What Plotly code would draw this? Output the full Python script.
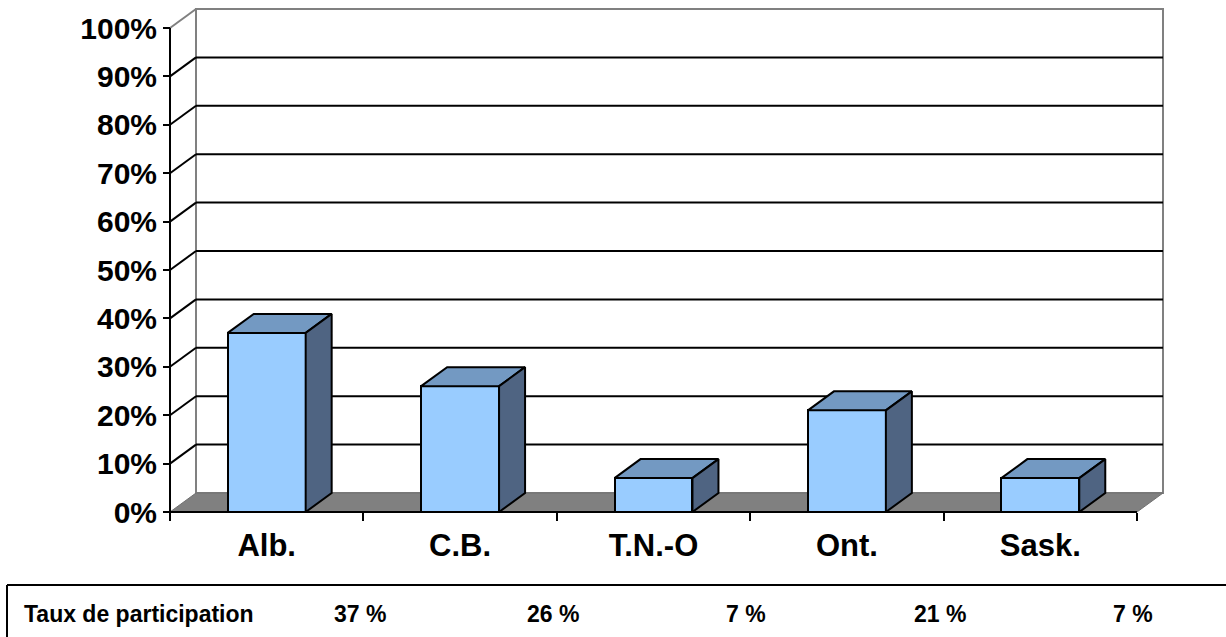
import plotly.graph_objects as go

# ---- data ----
categories = ["Alb.", "C.B.", "T.N.-O", "Ont.", "Sask."]
participation = [37, 26, 7, 21, 7]
y_ticks = [0, 10, 20, 30, 40, 50, 60, 70, 80, 90, 100]
y_tick_labels = [f"{v}%" for v in y_ticks]
table_label = "Taux de participation"

# ---- geometry (pixel layout) ----
W, H = 1226, 637
L, R, T, B = 160, 53, 4, 115
x0px, y0px = 170, 512          # pixel of data origin (front-left corner)
ux, uy = 193.4, 4.84            # pixels per category unit / per percent
dx, dy = 26 / ux, 19 / uy       # 3-D depth offset in data units
n = len(categories)
bar_w = 0.403

pw, ph = W - L - R, H - T - B
xr = [(L - x0px) / ux, (W - R - x0px) / ux]
yr = [(y0px - (H - B)) / uy, (y0px - T) / uy]

def px_x(p):
    return (p - L) / pw

def px_y(p):
    return (H - B - p) / ph

FONT = "Liberation Sans, Arial, sans-serif"
FRONT, TOP, SIDE = "#99CCFF", "#7399C2", "#4F6482"

fig = go.Figure()

shapes = []
# back wall
shapes.append(dict(type="rect", xref="x", yref="y", x0=dx, y0=dy, x1=n + dx, y1=100 + dy,
                   line=dict(color="#808080", width=2), fillcolor="white", layer="below"))
# gridlines on back wall and left wall
for v in y_ticks[1:-1]:
    shapes.append(dict(type="line", xref="x", yref="y", x0=dx, y0=v + dy, x1=n + dx, y1=v + dy,
                       line=dict(color="black", width=2), layer="below"))
    shapes.append(dict(type="line", xref="x", yref="y", x0=0, y0=v, x1=dx, y1=v + dy,
                       line=dict(color="black", width=2), layer="below"))
# top diagonal of left wall
shapes.append(dict(type="line", xref="x", yref="y", x0=0, y0=100, x1=dx, y1=100 + dy,
                   line=dict(color="#808080", width=2), layer="below"))
# floor
shapes.append(dict(type="path", xref="x", yref="y",
                   path=f"M 0,0 L {n},0 L {n + dx},{dy} L {dx},{dy} Z",
                   fillcolor="#808080", line=dict(color="#707070", width=1), layer="below"))
# front axis lines
shapes.append(dict(type="line", xref="x", yref="y", x0=0, y0=0, x1=n, y1=0,
                   line=dict(color="black", width=2), layer="below"))
shapes.append(dict(type="line", xref="x", yref="y", x0=0, y0=0, x1=0, y1=100,
                   line=dict(color="black", width=2), layer="below"))
# data table frame
shapes.append(dict(type="line", xref="paper", yref="paper", x0=px_x(7), y0=px_y(585), x1=px_x(1230), y1=px_y(585),
                   line=dict(color="black", width=2)))
shapes.append(dict(type="line", xref="paper", yref="paper", x0=px_x(7), y0=px_y(585), x1=px_x(7), y1=px_y(645),
                   line=dict(color="black", width=2)))

# bars: front faces
fig.add_trace(go.Bar(x=[i + 0.5 for i in range(n)], y=participation, width=bar_w,
                     marker=dict(color=FRONT, line=dict(color="black", width=2)),
                     showlegend=False, hoverinfo="skip"))
# bars: top and side faces
for i, v in enumerate(participation):
    a, b = i + 0.5 - bar_w / 2, i + 0.5 + bar_w / 2
    fig.add_trace(go.Scatter(x=[a, b, b + dx, a + dx, a], y=[v, v, v + dy, v + dy, v],
                             mode="lines", fill="toself", fillcolor=TOP,
                             line=dict(color="black", width=2), showlegend=False, hoverinfo="skip"))
    fig.add_trace(go.Scatter(x=[b, b + dx, b + dx, b, b], y=[0, dy, v + dy, v, 0],
                             mode="lines", fill="toself", fillcolor=SIDE,
                             line=dict(color="black", width=2), showlegend=False, hoverinfo="skip"))

annotations = [dict(xref="paper", yref="paper", x=px_x(22), y=px_y(614), text=table_label,
                    showarrow=False, xanchor="left", yanchor="middle",
                    font=dict(family=FONT, size=23, color="black", weight="bold"))]
for i, v in enumerate(participation):
    annotations.append(dict(xref="x", yref="paper", x=i + 0.98, y=px_y(614), text=f"{v} %",
                            showarrow=False, xanchor="center", yanchor="middle",
                            font=dict(family=FONT, size=23, color="black", weight="bold")))

fig.update_layout(
    width=W, height=H,
    margin=dict(l=L, r=R, t=T, b=B, pad=0),
    paper_bgcolor="white", plot_bgcolor="white",
    shapes=shapes, annotations=annotations,
    xaxis=dict(range=xr, anchor="free", position=px_y(y0px),
               tickmode="array", tickvals=[i + 0.5 for i in range(n)], ticktext=categories,
               ticks="", showgrid=False, zeroline=False, showline=False,
               ticklabelstandoff=12,
               tickfont=dict(family=FONT, size=31, color="black", weight="bold"),
               minor=dict(tickmode="array", tickvals=list(range(n + 1)), ticks="outside",
                          ticklen=8, tickwidth=2, tickcolor="black", showgrid=False)),
    yaxis=dict(range=yr, anchor="free", position=px_x(x0px),
               tickmode="array", tickvals=y_ticks, ticktext=y_tick_labels,
               ticks="outside", ticklen=7, tickwidth=2, tickcolor="black",
               showgrid=False, zeroline=False, showline=False,
               tickfont=dict(family=FONT, size=30, color="black", weight="bold")),
    bargap=0,
)

fig.write_html("out.html")
